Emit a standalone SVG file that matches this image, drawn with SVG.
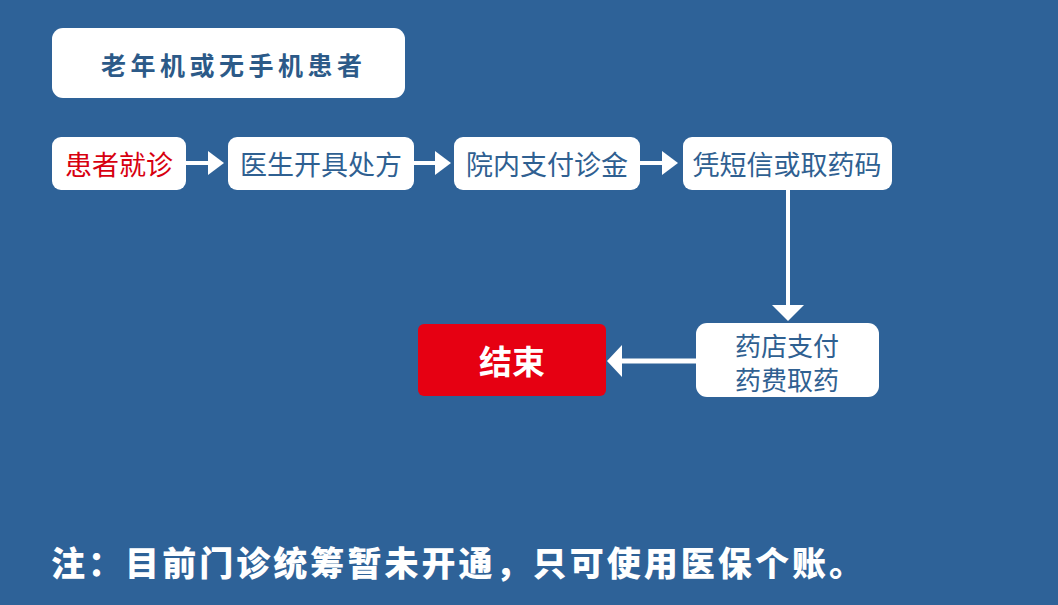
<svg xmlns="http://www.w3.org/2000/svg" width="1058" height="605" viewBox="0 0 1058 605">
<style>
.box{fill:#ffffff}
.t{font-family:"Noto Sans CJK SC","Noto Sans",sans-serif;font-size:27px;fill:#2f6091;text-anchor:middle;dominant-baseline:central}
.ln{stroke:#ffffff;stroke-width:4;fill:none}
.hd{fill:#ffffff}
</style>
<rect x="0" y="0" width="1058" height="605" fill="#2e6298"/>
<g id="title">
<rect class="box" x="52" y="28" width="353" height="70" rx="11"/>
<text x="101" y="64" textLength="261" style="font-family:'Noto Sans CJK SC','Noto Sans',sans-serif;font-size:25px;font-weight:700;fill:#2c5a88;dominant-baseline:central">老年机或无手机患者</text>
</g>
<g id="n1">
<rect class="box" x="52" y="137" width="134" height="53" rx="9"/>
<text class="t" x="119" y="163" style="fill:#d7000f">患者就诊</text>
</g>
<g id="n2">
<rect class="box" x="228" y="137" width="186" height="53" rx="9"/>
<text class="t" x="321" y="163">医生开具处方</text>
</g>
<g id="n3">
<rect class="box" x="454" y="137" width="186" height="53" rx="9"/>
<text class="t" x="547" y="163">院内支付诊金</text>
</g>
<g id="n4">
<rect class="box" x="683" y="137" width="209" height="53" rx="9"/>
<text class="t" x="787" y="163">凭短信或取药码</text>
</g>
<g id="n5">
<rect class="box" x="696" y="323" width="183" height="74" rx="11"/>
<text class="t" x="787" y="344" style="font-size:26px">药店支付</text>
<text class="t" x="787" y="378" style="font-size:26px">药费取药</text>
</g>
<g id="end">
<rect x="418" y="324" width="188" height="72" rx="6" fill="#e60012"/>
<text class="t" x="512" y="360" style="font-size:33px;font-weight:700;fill:#ffffff">结束</text>
</g>
<g id="connectors">
<line class="ln" x1="186" y1="163" x2="210" y2="163"/>
<polygon class="hd" points="208,151 224,163 208,175"/>
<line class="ln" x1="414" y1="163" x2="437" y2="163"/>
<polygon class="hd" points="435,151 451,163 435,175"/>
<line class="ln" x1="640" y1="163" x2="664" y2="163"/>
<polygon class="hd" points="662,151 678,163 662,175"/>
<line class="ln" x1="788" y1="190" x2="788" y2="307"/>
<polygon class="hd" points="772,305 804,305 788,321"/>
<line class="ln" x1="696" y1="361" x2="620" y2="361" style="stroke-width:5"/>
<polygon class="hd" points="622,345 622,377 607,361"/>
</g>
<text x="51" y="576" textLength="812" style="font-family:'Noto Sans CJK SC','Noto Sans',sans-serif;font-size:34px;font-weight:900;fill:#ffffff">注：目前门诊统筹暂未开通，只可使用医保个账。</text>
</svg>
